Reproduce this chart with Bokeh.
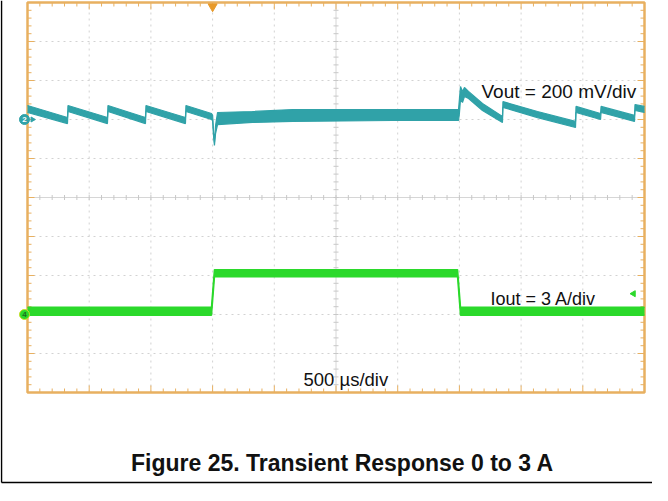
from bokeh.plotting import figure
from bokeh.models import Range1d, Label
from bokeh.embed import file_html
from bokeh.resources import INLINE

# ---------------- data ----------------
TIME_PER_DIV_US = 500
N_DIV_X = 10
N_DIV_Y = 10
VOUT_MV_PER_DIV = 200
IOUT_A_PER_DIV = 3
VOUT_OFFSET_DIV = 7      # channel 2 ground marker
IOUT_OFFSET_DIV = 2      # channel 4 ground marker
TRIGGER_T_US = 1500
TRIGGER_LEVEL_A = 1.6

# Vout (AC) trace envelope: time in us, upper / lower edge of the noisy trace in mV
vout_t = [0, 324, 328, 648, 652, 956, 960, 1280, 1284, 1491, 1500, 1508, 1515, 1524,
          1540, 1823, 2148, 2958, 3493, 3500, 3509, 3525, 3541, 3574, 3687, 3849,
          3853, 4133, 4441, 4445, 4644, 4648, 4919, 4923, 5000]
vout_hi = [72, 10, 72, 10, 72, 10, 72, 10, 72, 31, 21, -67, -118, -31,
           36, 41, 51, 51, 51, 103, 169, 144, 164, 144, 82, 15,
           92, 41, -10, 67, 31, 67, 21, 77, 67]
vout_lo = [36, -21, 41, -21, 41, -21, 41, -21, 41, 0, -5, -87, -133, -72,
           -26, -15, -10, -5, -5, 31, 103, 87, 118, 108, 46, -15,
           62, 10, -41, 36, 0, 36, -10, 46, 36]

# Iout trace envelope: time in us, upper / lower edge in A
iout_t = [0, 1491, 1515, 3485, 3509, 5000]
iout_hi = [0.55, 0.55, 3.45, 3.45, 0.55, 0.55]
iout_lo = [-0.05, -0.05, 2.9, 2.9, -0.05, -0.05]

vout_label = "Vout = 200 mV/div"
iout_label = "Iout = 3 A/div"
time_label = "500 µs/div"
caption = "Figure 25. Transient Response 0 to 3 A"

# ---------------- layout ----------------
W, H = 652, 485
L, R, T, B = 27, 644, 2, 392          # scope screen inside the canvas (px)
T_TOTAL = TIME_PER_DIV_US * N_DIV_X
us_per_px = T_TOTAL / (R - L)
div_per_px = N_DIV_Y / (B - T)
x_start, x_end = -L * us_per_px, T_TOTAL + (W - R) * us_per_px
y_start, y_end = -(H - B) * div_per_px, N_DIV_Y + T * div_per_px


def X(px):
    return (px - L) * us_per_px


def Y(py):
    return (B - py) * div_per_px


TEAL = "#30a2a8"
GREEN = "#2bd92b"
ORANGE = "#e8b060"
GRID = "#d2d2d2"
FONT = "Liberation Sans"

p = figure(width=W, height=H, x_range=Range1d(x_start, x_end), y_range=Range1d(y_start, y_end),
           output_backend="svg", toolbar_location=None, min_border=0,
           x_axis_location=None, y_axis_location=None, outline_line_color=None)
p.grid.visible = False
p.background_fill_color = "white"
p.border_fill_color = "white"

p.extra_y_ranges = {
    "vout": Range1d((y_start - VOUT_OFFSET_DIV) * VOUT_MV_PER_DIV, (y_end - VOUT_OFFSET_DIV) * VOUT_MV_PER_DIV),
    "iout": Range1d((y_start - IOUT_OFFSET_DIV) * IOUT_A_PER_DIV, (y_end - IOUT_OFFSET_DIV) * IOUT_A_PER_DIV),
}

# ---- graticule ----
xc = T_TOTAL / 2
yc = N_DIV_Y / 2
gx = [k * TIME_PER_DIV_US for k in range(1, N_DIV_X) if k * 2 != N_DIV_X]
gy = [k for k in range(1, N_DIV_Y) if k * 2 != N_DIV_Y]
p.segment(x0=gx, y0=[0] * len(gx), x1=gx, y1=[N_DIV_Y] * len(gx), line_color=GRID, line_dash="2 4", line_width=1)
p.segment(x0=[0] * len(gy), y0=gy, x1=[T_TOTAL] * len(gy), y1=gy, line_color=GRID, line_dash="2 4", line_width=1)
p.segment(x0=[xc, 0], y0=[0, yc], x1=[xc, T_TOTAL], y1=[N_DIV_Y, yc], line_color="#d6d6d6", line_width=1)

# minor ticks on the centre lines and on the frame
sub_x = [k * TIME_PER_DIV_US / 5 for k in range(1, N_DIV_X * 5)]
sub_y = [k / 5 for k in range(1, N_DIV_Y * 5)]
tpx = 2.5 * div_per_px
tpu = 2.5 * us_per_px
p.segment(x0=sub_x, y0=[yc - tpx] * len(sub_x), x1=sub_x, y1=[yc + tpx] * len(sub_x), line_color="#c8c8c8")
p.segment(x0=[xc - tpu] * len(sub_y), y0=sub_y, x1=[xc + tpu] * len(sub_y), y1=sub_y, line_color="#c8c8c8")


def tick_len_x(v):
    return (7 if abs(v / TIME_PER_DIV_US - round(v / TIME_PER_DIV_US)) < 1e-9 else 4) * div_per_px


def tick_len_y(v):
    return (7 if abs(v - round(v)) < 1e-9 else 4) * us_per_px


p.segment(x0=sub_x, y0=[N_DIV_Y] * len(sub_x), x1=sub_x, y1=[N_DIV_Y - tick_len_x(v) for v in sub_x],
          line_color=ORANGE, line_width=1)
p.segment(x0=sub_x, y0=[0] * len(sub_x), x1=sub_x, y1=[tick_len_x(v) for v in sub_x],
          line_color=ORANGE, line_width=1)
p.segment(x0=[0] * len(sub_y), y0=sub_y, x1=[tick_len_y(v) for v in sub_y], y1=sub_y,
          line_color=ORANGE, line_width=1)
p.segment(x0=[T_TOTAL] * len(sub_y), y0=sub_y, x1=[T_TOTAL - tick_len_y(v) for v in sub_y], y1=sub_y,
          line_color=ORANGE, line_width=1)

# frame
p.quad(left=[0], right=[T_TOTAL], bottom=[0], top=[N_DIV_Y], fill_alpha=0,
       line_color=ORANGE, line_width=2.5)

# ---- traces ----
p.varea(x=vout_t, y1=vout_lo, y2=vout_hi, fill_color=TEAL, y_range_name="vout")
p.line(vout_t, vout_hi, line_color=TEAL, line_width=1.2, y_range_name="vout")
p.line(vout_t, vout_lo, line_color=TEAL, line_width=1.2, y_range_name="vout")

p.varea(x=iout_t, y1=iout_lo, y2=iout_hi, fill_color=GREEN, y_range_name="iout")
p.line(iout_t, iout_hi, line_color=GREEN, line_width=1.5, y_range_name="iout")
p.line(iout_t, iout_lo, line_color=GREEN, line_width=1.5, y_range_name="iout")

# ---- markers ----
# trigger position
p.scatter([TRIGGER_T_US], [Y(6)], marker="inverted_triangle", size=9, fill_color="#e89a2a",
          line_color="#e89a2a")
# channel 2 ground marker
p.scatter([X(24)], [VOUT_OFFSET_DIV], marker="circle", size=10, fill_color=TEAL, line_color=TEAL)
p.scatter([X(32)], [VOUT_OFFSET_DIV], marker="triangle", angle=-1.5708, size=5, fill_color=TEAL, line_color=TEAL)
p.add_layout(Label(x=X(24), y=VOUT_OFFSET_DIV, text="2", text_font=FONT, text_font_size="8px",
                   text_font_style="bold", text_color="white", text_align="center", text_baseline="middle"))
# channel 4 ground marker
p.scatter([X(24)], [IOUT_OFFSET_DIV], marker="circle", size=10, fill_color=GREEN, line_color="#c9e020")
p.add_layout(Label(x=X(24), y=IOUT_OFFSET_DIV, text="4", text_font=FONT, text_font_size="8px",
                   text_font_style="bold", text_color="#1d6d1d", text_align="center", text_baseline="middle"))
# trigger level marker
p.scatter([X(633)], [TRIGGER_LEVEL_A], marker="triangle", angle=1.5708, size=6, fill_color=GREEN,
          line_color=GREEN, y_range_name="iout")

# ---- texts ----
p.add_layout(Label(x=X(481), y=Y(91), text=vout_label, text_font=FONT, text_font_size="19px",
                   text_color="#111111", text_baseline="alphabetic"))
p.add_layout(Label(x=X(490), y=Y(298), text=iout_label, text_font=FONT, text_font_size="18px",
                   text_color="#111111", text_baseline="alphabetic"))
p.add_layout(Label(x=X(303), y=Y(379), text=time_label, text_font=FONT, text_font_size="18.5px",
                   text_color="#111111", text_baseline="alphabetic"))
p.add_layout(Label(x=X(342), y=Y(462), text=caption, text_font=FONT, text_font_size="23px",
                   text_font_style="bold", text_color="#111111", text_align="center",
                   text_baseline="alphabetic"))

# outer box (left and bottom edges)
p.segment(x0=[X(1), X(1)], y0=[Y(0), Y(482)], x1=[X(1), X(W)], y1=[Y(482), Y(482)],
          line_color="black", line_width=1.5)

open("out.html", "w").write(file_html(p, INLINE))
